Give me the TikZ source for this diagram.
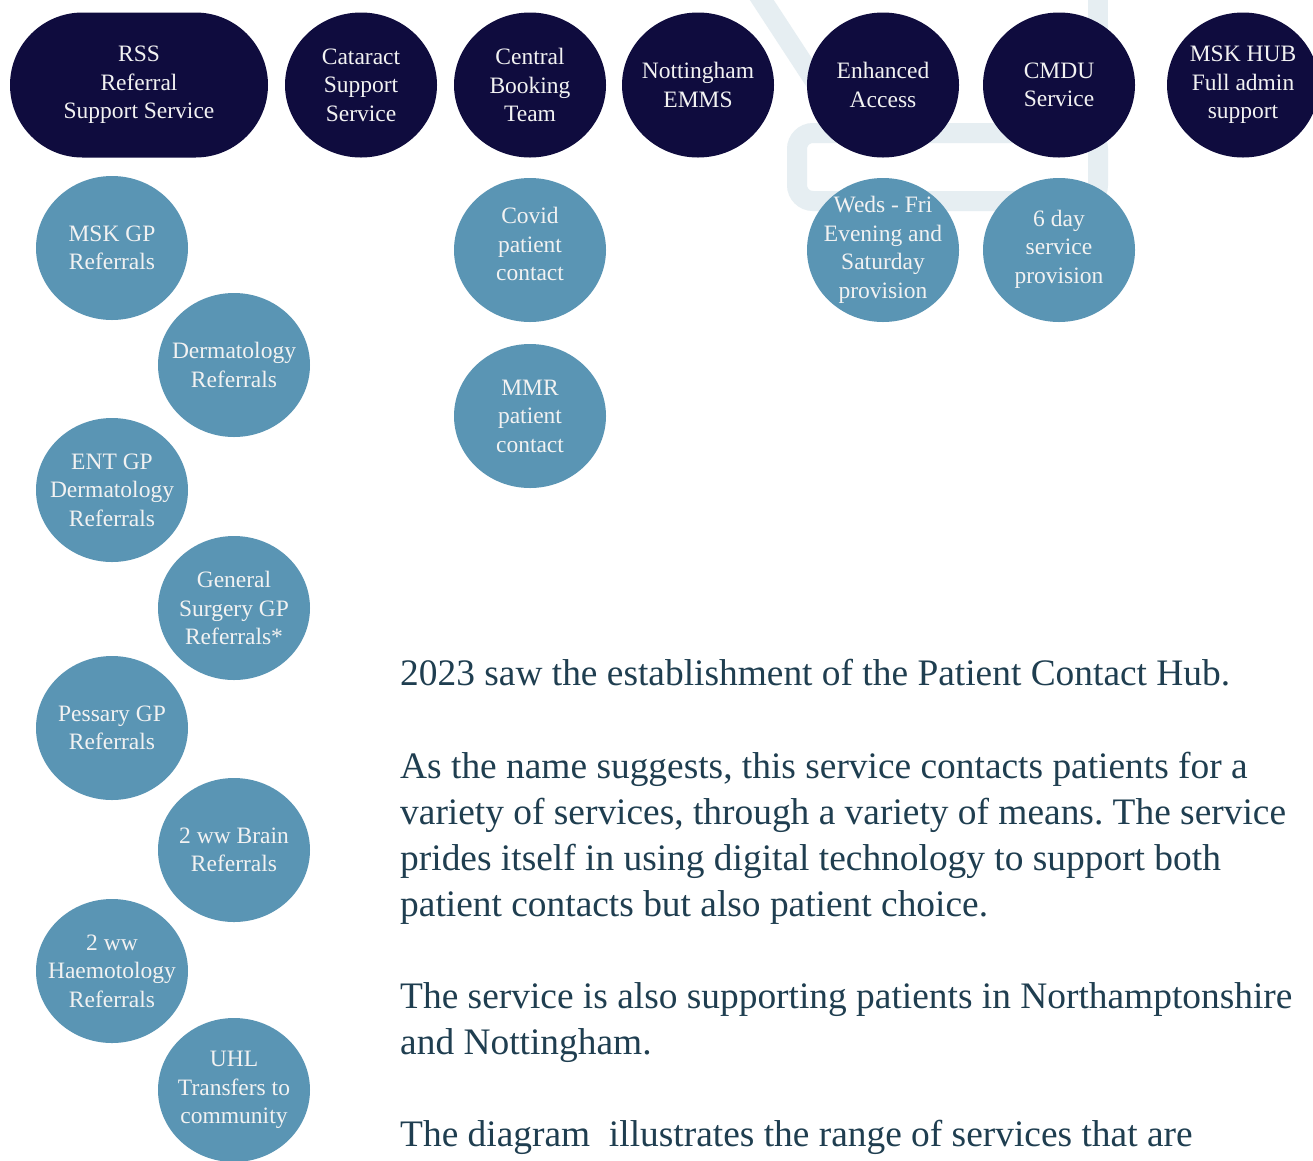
\documentclass[tikz,border=0pt]{standalone}
\usepackage{fontspec}
\setmainfont{Liberation Serif}
\usetikzlibrary{shapes.geometric,shapes.misc}

\definecolor{hubnavy}{HTML}{0F0C3E}
\definecolor{hubblue}{HTML}{5A95B4}
\definecolor{hubtext}{HTML}{1F3E50}
\definecolor{hubghost}{HTML}{E6EEF2}
\definecolor{hublabel}{HTML}{F2F2F2}

\tikzset{
  svc/.style={ellipse, fill=hubnavy, text=hublabel, minimum width=152pt,
    minimum height=145pt, inner sep=-16pt, align=center,
    font=\fontsize{23.5}{28.5}\selectfont},
  pill/.style={svc, rounded rectangle, inner sep=0pt, minimum width=258pt},
  sub/.style={svc, fill=hubblue, minimum height=144pt},
  para/.style={anchor=base west, text=hubtext, inner sep=0pt,
    font=\fontsize{37.4}{46}\selectfont},
  ghost/.style={draw=hubghost, line width=20pt}
}

\begin{document}
\frenchspacing
\begin{tikzpicture}[x=1pt,y=-1pt]
\useasboundingbox (0,0) rectangle (1313,1160);
\clip (0,0) rectangle (1313,1160);
\fill[white] (0,0) rectangle (1313,1160);

% faint outline shape behind the service row
\draw[ghost, rounded corners=16pt] (797,133) rectangle (1098,201);
\draw[ghost] (1098,140) -- (1098,-15);
\draw[ghost] (752,-15) -- (835,112);

% top row of services
\node[pill] (rss) at (139,85) {RSS\\Referral\\Support Service};
\node[svc] (cataract) at (361,85) {Cataract\\Support\\Service};
\node[svc] (booking) at (530,85) {Central\\Booking\\Team};
\node[svc] (emms) at (698,85) {Nottingham\\EMMS};
\node[svc] (enhanced) at (883,85) {Enhanced\\Access};
\node[svc] (cmdu) at (1059,85) {CMDU\\Service};
\node[svc] (mskhub) at (1243,85) {MSK HUB\\Full admin\\support};

% referral streams under RSS
\node[sub] (mskgp) at (112,248) {MSK GP\\Referrals};
\node[sub] (derm) at (234,365) {Dermatology\\Referrals};
\node[sub] (ent) at (112,490) {ENT GP\\Dermatology\\Referrals};
\node[sub] (gensurg) at (234,608) {General\\Surgery GP\\Referrals*};
\node[sub] (pessary) at (112,728) {Pessary GP\\Referrals};
\node[sub] (brain) at (234,850) {2 ww Brain\\Referrals};
\node[sub] (haem) at (112,971) {2 ww\\Haemotology\\Referrals};
\node[sub] (uhl) at (234,1090) {UHL\\Transfers to\\community};

% central booking streams
\node[sub] (covid) at (530,250) {Covid\\patient\\contact\\[-16.5pt]};
\node[sub] (mmr) at (530,416) {MMR\\patient\\contact};

% extended hours
\node[sub] (weds) at (883,250) {Weds - Fri\\Evening and\\Saturday\\provision};
\node[sub] (sixday) at (1059,250) {6 day\\service\\provision\\[-21.5pt]};

% description
\node[para] (p1) at (400,685) {2023 saw the establishment of the Patient Contact Hub.};
\node[para] (p2a) at (400,778) {As the name suggests, this service contacts patients for a};
\node[para] (p2b) at (400,824) {variety of services, through a variety of means. The service};
\node[para] (p2c) at (400,870) {prides itself in using digital technology to support both};
\node[para] (p2d) at (400,916) {patient contacts but also patient choice.};
\node[para] (p3a) at (400,1008) {The service is also supporting patients in Northamptonshire};
\node[para] (p3b) at (400,1054) {and Nottingham.};
\node[para] (p4) at (400,1146) {The diagram\ \ illustrates the range of services that are};
\end{tikzpicture}
\end{document}
